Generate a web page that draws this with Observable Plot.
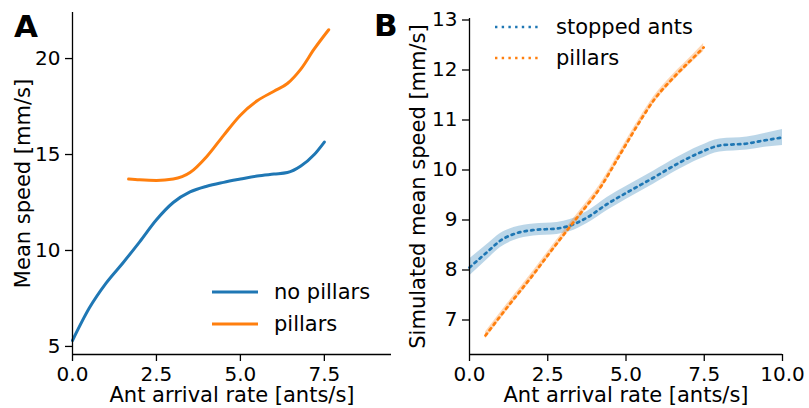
<!DOCTYPE html>
<html>
<head>
<meta charset="utf-8">
<script src="https://cdn.jsdelivr.net/npm/d3@7"></script>
<script src="https://cdn.jsdelivr.net/npm/@observablehq/plot@0.6"></script>
<style>
  html, body { margin: 0; padding: 0; background: #fff; }
  #root { position: relative; width: 809px; height: 408px; font-family: "DejaVu Sans", sans-serif; }
  #root > svg, #root > div { position: absolute; top: 0; }
  .panel-tag { position: absolute; font-weight: bold; font-size: 31px; line-height: 1; color: #000; }
</style>
</head>
<body>
<div id="root"></div>
<script>
// Panel A: measured mean speed vs ant arrival rate
const seriesA = ["no pillars", "pillars"];
const aNoX = [0, 0.5, 1.0, 1.5, 2.0, 2.5, 3.0, 3.5, 4.0, 4.5, 5.0, 5.5, 6.0, 6.4, 6.8, 7.2, 7.5];
const aNoY = [5.31, 7.0, 8.3, 9.35, 10.45, 11.6, 12.5, 13.05, 13.35, 13.55, 13.72, 13.88, 13.98, 14.06, 14.4, 15.0, 15.65];
const aPilX = [1.67, 2.0, 2.5, 3.0, 3.5, 4.0, 4.5, 5.0, 5.5, 6.0, 6.4, 6.8, 7.2, 7.63];
const aPilY = [13.72, 13.68, 13.65, 13.72, 14.06, 14.9, 16.0, 17.05, 17.8, 18.3, 18.7, 19.45, 20.5, 21.5];
const aXTicks = [0, 2.5, 5, 7.5];
const aYTicks = [5, 10, 15, 20];

// Panel B: simulated mean speed (line = mean, band = spread)
const seriesB = ["stopped ants", "pillars"];
const bStopX = [0, 0.62, 0.99, 1.42, 2.05, 2.8, 3.22, 3.76, 4.4, 5.03, 5.89, 6.63, 7.37, 8.0, 8.87, 9.5, 10];
const bStopY = [8.05, 8.39, 8.59, 8.72, 8.8, 8.83, 8.89, 9.05, 9.32, 9.55, 9.85, 10.12, 10.35, 10.49, 10.53, 10.6, 10.65];
const bStopErr = [0.17, 0.15, 0.14, 0.13, 0.12, 0.12, 0.12, 0.12, 0.13, 0.13, 0.13, 0.13, 0.13, 0.13, 0.13, 0.14, 0.16];
const bPilX = [0.51, 1.2, 2.05, 2.69, 3.44, 4.18, 4.82, 5.46, 5.88, 6.52, 7.16, 7.48];
const bPilY = [6.69, 7.25, 7.92, 8.45, 9.05, 9.65, 10.32, 10.99, 11.39, 11.85, 12.25, 12.45];
const bPilErr = [0.07, 0.07, 0.07, 0.07, 0.07, 0.07, 0.07, 0.07, 0.07, 0.07, 0.07, 0.08];
const bXTicks = [0, 2.5, 5, 7.5, 10];
const bYTicks = [7, 8, 9, 10, 11, 12, 13];

const blue = "#1f77b4", orange = "#ff7f0e";
const dots = "2.4,4.3";

const toRows = (xs, ys, errs) => xs.map((x, i) => ({x, y: ys[i], lo: errs ? ys[i] - errs[i] : null, hi: errs ? ys[i] + errs[i] : null}));

const aNo = toRows(aNoX, aNoY);
const aPil = toRows(aPilX, aPilY);
const bStop = toRows(bStopX, bStopY, bStopErr);
const bPil = toRows(bPilX, bPilY, bPilErr);

const font = {fontFamily: "DejaVu Sans, sans-serif", fontSize: "20px", color: "#000", background: "transparent", overflow: "visible"};

function axes(xDom, yDom, xTicks, yTicks, xLabel, yLabel, yLabelDx) {
  return [
    Plot.axisX(xTicks, {tickSize: 7, tickPadding: 5, tickFormat: d3.format(".1f"), strokeWidth: 1.3, fontSize: 20, label: null}),
    Plot.axisY(yTicks, {tickSize: 7, tickPadding: 5, tickFormat: d3.format("d"), strokeWidth: 1.3, fontSize: 20, label: null}),
    Plot.ruleX([xDom[0]], {stroke: "#000", strokeWidth: 1.3}),
    Plot.ruleY([yDom[0]], {stroke: "#000", strokeWidth: 1.3}),
    Plot.text([xLabel], {frameAnchor: "bottom", dy: 41, lineAnchor: "middle", fontSize: 21, fill: "#000"}),
    Plot.text([yLabel], {frameAnchor: "left", dx: yLabelDx, rotate: -90, lineAnchor: "middle", textAnchor: "middle", fontSize: 21, fill: "#000"})
  ];
}

const xDomA = [0, 9.5], yDomA = [4.58, 22.4];
const plotA = Plot.plot({
  width: 404, height: 408,
  marginLeft: 72, marginRight: 13, marginTop: 12, marginBottom: 54,
  style: font,
  x: {domain: xDomA},
  y: {domain: yDomA},
  marks: [
    Plot.line(aNo, {x: "x", y: "y", stroke: blue, strokeWidth: 3, curve: "monotone-x"}),
    Plot.line(aPil, {x: "x", y: "y", stroke: orange, strokeWidth: 3, curve: "monotone-x"}),
    ...axes(xDomA, yDomA, aXTicks, aYTicks, "Ant arrival rate [ants/s]", "Mean speed [mm/s]", -49)
  ]
});
plotA.style.left = "0px";

const xDomB = [0, 10], yDomB = [6.31, 13.03];
const plotB = Plot.plot({
  width: 405, height: 408,
  marginLeft: 65, marginRight: 27, marginTop: 18, marginBottom: 54,
  style: font,
  x: {domain: xDomB},
  y: {domain: yDomB},
  marks: [
    Plot.areaY(bStop, {x: "x", y1: "lo", y2: "hi", fill: blue, fillOpacity: 0.3, curve: "monotone-x"}),
    Plot.areaY(bPil, {x: "x", y1: "lo", y2: "hi", fill: orange, fillOpacity: 0.3, curve: "monotone-x"}),
    Plot.line(bStop, {x: "x", y: "y", stroke: blue, strokeWidth: 2.7, strokeDasharray: dots, curve: "monotone-x"}),
    Plot.line(bPil, {x: "x", y: "y", stroke: orange, strokeWidth: 2.7, strokeDasharray: dots, curve: "monotone-x"}),
    ...axes(xDomB, yDomB, bXTicks, bYTicks, "Ant arrival rate [ants/s]", "Simulated mean speed [mm/s]", -51)
  ]
});
plotB.style.left = "404px";

const root = document.getElementById("root");
root.append(plotA, plotB);

// Legends drawn as a transparent overlay
const legend = d3.create("svg").attr("width", 809).attr("height", 408)
  .style("position", "absolute").style("left", "0px").style("top", "0px")
  .style("font-family", "DejaVu Sans, sans-serif").style("font-size", "21px");

function legendBlock(names, colors, x0, x1, tx, ys, dash) {
  names.forEach((name, i) => {
    legend.append("line").attr("x1", x0).attr("x2", x1).attr("y1", ys[i]).attr("y2", ys[i])
      .attr("stroke", colors[i]).attr("stroke-width", dash ? 2.7 : 3)
      .attr("stroke-dasharray", dash || null);
    legend.append("text").attr("x", tx).attr("y", ys[i]).attr("dy", "0.35em").attr("fill", "#000").text(name);
  });
}
legendBlock(seriesA, [blue, orange], 212, 258, 274, [292, 324], null);
legendBlock(seriesB, [blue, orange], 495, 539, 556, [27, 58], dots);
root.append(legend.node());

// Panel tags
for (const [tag, left, top] of [["A", 14, 11], ["B", 374, 10]]) {
  const d = document.createElement("div");
  d.className = "panel-tag";
  d.textContent = tag;
  d.style.left = left + "px";
  d.style.top = top + "px";
  root.append(d);
}
</script>
</body>
</html>
